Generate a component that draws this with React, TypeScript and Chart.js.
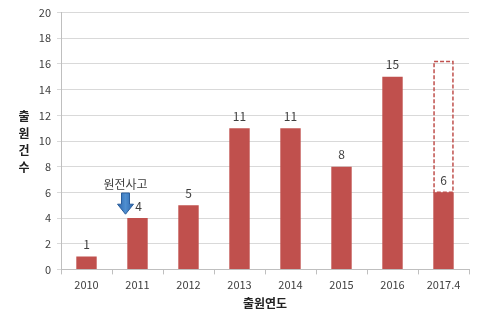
import React, { useEffect, useRef } from "react";
import { Chart, registerables } from "chart.js";

Chart.register(...registerables);

const categories = ["2010", "2011", "2012", "2013", "2014", "2015", "2016", "2017.4"];
const filings = [1, 4, 5, 11, 11, 8, 15, 6];
const projectedTotal = [null, null, null, null, null, null, null, 16.2];
const yTicks = [0, 2, 4, 6, 8, 10, 12, 14, 16, 18, 20];
const yTitle = ["출", "원", "건", "수"];
const xTitle = "출원연도";
const eventLabel = "원전사고";
const eventIndex = 1;
const eventArrowTop = 5.95;
const eventArrowTip = 4.3;

const FONT = "'Malgun Gothic', 'Noto Sans CJK KR', 'Noto Sans', sans-serif";
const RED = "#c0504d";
const TEXT = "#404040";

const overlayPlugin = {
  id: "overlay",
  afterDatasetsDraw(chart: any) {
    const ctx = chart.ctx;
    const xs = chart.scales.x;
    const ys = chart.scales.y;
    const meta = chart.getDatasetMeta(0);
    ctx.save();
    // projection dashed box
    projectedTotal.forEach((v, i) => {
      if (v == null) return;
      const el: any = meta.data[i];
      const top = ys.getPixelForValue(v);
      const bottom = ys.getPixelForValue(filings[i]);
      ctx.setLineDash([4, 2]);
      ctx.strokeStyle = RED;
      ctx.lineWidth = 1.5;
      ctx.strokeRect(el.x - el.width / 2 + 0.75, top, el.width - 1.5, bottom - top);
      ctx.setLineDash([]);
    });
    // data labels
    ctx.fillStyle = TEXT;
    ctx.font = `12px ${FONT}`;
    ctx.textAlign = "center";
    ctx.textBaseline = "bottom";
    meta.data.forEach((el: any, i: number) => {
      const x = i === eventIndex ? el.x + 1 : el.x;
      ctx.fillText(String(filings[i]), x, el.y - 6);
    });
    // event arrow
    const cx = xs.getPixelForValue(eventIndex) - 12;
    const yTop = ys.getPixelForValue(eventArrowTop);
    const yTip = ys.getPixelForValue(eventArrowTip);
    const headH = 10;
    const shaftW = 4;
    const headW = 8;
    ctx.beginPath();
    ctx.moveTo(cx - shaftW, yTop);
    ctx.lineTo(cx + shaftW, yTop);
    ctx.lineTo(cx + shaftW, yTip - headH);
    ctx.lineTo(cx + headW, yTip - headH);
    ctx.lineTo(cx, yTip);
    ctx.lineTo(cx - headW, yTip - headH);
    ctx.lineTo(cx - shaftW, yTip - headH);
    ctx.closePath();
    const grad = ctx.createLinearGradient(cx - headW, 0, cx + headW, 0);
    grad.addColorStop(0, "#2a64ad");
    grad.addColorStop(0.5, "#4f8fd0");
    grad.addColorStop(1, "#2a64ad");
    ctx.fillStyle = grad;
    ctx.fill();
    ctx.strokeStyle = "#2a5e9c";
    ctx.lineWidth = 1;
    ctx.stroke();
    ctx.fillStyle = TEXT;
    ctx.font = `12px ${FONT}`;
    ctx.textBaseline = "bottom";
    ctx.fillText(eventLabel, cx, yTop - 3);
    // y title stacked
    ctx.font = `bold 12px ${FONT}`;
    ctx.fillStyle = "#222";
    ctx.textBaseline = "middle";
    yTitle.forEach((ch, i) => {
      ctx.fillText(ch, 24, 116 + i * 17);
    });
    ctx.restore();
  },
};

export default function App() {
  const ref = useRef<HTMLCanvasElement>(null);
  useEffect(() => {
    const chart = new Chart(ref.current!, {
      type: "bar",
      data: {
        labels: categories,
        datasets: [
          {
            data: filings,
            backgroundColor: RED,
            barPercentage: 0.4,
            categoryPercentage: 1,
          },
        ],
      },
      options: {
        animation: false,
        responsive: false,
        maintainAspectRatio: false,
        layout: { padding: { top: 3, right: 21, left: 0, bottom: 6 } },
        plugins: { legend: { display: false }, tooltip: { enabled: false } },
        scales: {
          x: {
            offset: true,
            grid: {
              drawOnChartArea: false,
              drawTicks: true,
              tickLength: 5,
              color: "#bfbfbf",
            },
            border: { color: "#bfbfbf" },
            ticks: { color: TEXT, font: { family: FONT, size: 11 }, padding: 4, maxRotation: 0 },
            title: {
              display: true,
              text: xTitle,
              color: "#222",
              font: { family: FONT, size: 12, weight: "bold" },
              padding: { top: 1, bottom: 0 },
            },
          },
          y: {
            min: 0,
            max: 20,
            afterBuildTicks(scale: any) {
              scale.ticks = yTicks.map((v) => ({ value: v }));
            },
            afterFit(scale: any) {
              scale.width = 61;
            },
            grid: { color: "#d9d9d9", tickLength: 4 },
            border: { color: "#bfbfbf" },
            ticks: { color: TEXT, font: { family: FONT, size: 11 }, padding: 6 },
          },
        },
      },
      plugins: [overlayPlugin],
    });
    return () => chart.destroy();
  }, []);
  return (
    <div style={{ position: "absolute", left: 0, top: 0, width: 490, height: 317, background: "#fff" }}>
      <canvas ref={ref} width={490} height={317} style={{ width: 490, height: 317 }} />
    </div>
  );
}
